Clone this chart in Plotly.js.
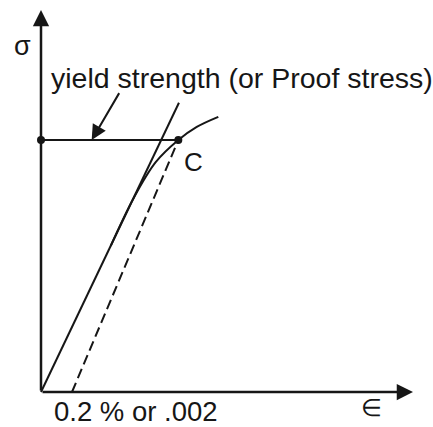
<!DOCTYPE html>
<html>
<head>
<meta charset="utf-8">
<script src="https://cdn.plot.ly/plotly-3.0.1.min.js"></script>
<style>html,body{margin:0;padding:0;background:#fff;}#chart{width:433px;height:427px;}</style>
</head>
<body>
<div id="chart"></div>
<script>
// ---- data (strain in %, stress in MPa, schematic) ----
const elasticStrain = [0, 0.890];
const elasticStress = [0, 287];
const offsetStrain = [0.2, 0.886];
const offsetStress = [0, 250];
const curveStrain = [0.45, 0.60, 0.74, 0.886, 1.005, 1.144];
const curveStress = [145, 193, 228, 250, 263, 273];
const yieldStrain = [0, 0.886];
const yieldStress = [250, 250];
const axisEnds = [2.4, 379];           // strain axis end, stress axis end
const arrowTail = [0.51, 298];         // label arrow tail
const arrowHead = [0.327, 250];        // label arrow head
const labels = ["σ", "yield strength (or Proof stress)", "C", "0.2 % or .002", "∈"];

const ink = '#161616';
const font = 'Liberation Sans, Arial, sans-serif';

const traces = [
  {x: elasticStrain, y: elasticStress, mode: 'lines', line: {color: ink, width: 2}},
  {x: offsetStrain, y: offsetStress, mode: 'lines', line: {color: ink, width: 2, dash: '10px,5px'}},
  {x: curveStrain, y: curveStress, mode: 'lines', line: {color: ink, width: 2, shape: 'spline', smoothing: 1}},
  {x: yieldStrain, y: yieldStress, mode: 'lines+markers', line: {color: ink, width: 2},
   marker: {color: ink, size: 8}}
];

const arrowBase = {showarrow: true, text: '', axref: 'x', ayref: 'y', arrowcolor: ink,
  arrowhead: 2, standoff: 0, startstandoff: 0};

const layout = {
  width: 433, height: 427,
  margin: {l: 0, r: 0, t: 0, b: 0},
  paper_bgcolor: '#fff', plot_bgcolor: '#fff',
  showlegend: false,
  xaxis: {range: [-0.26452, 2.52903], visible: false, fixedrange: true},
  yaxis: {range: [-34.72, 388.89], visible: false, fixedrange: true},
  annotations: [
    Object.assign({}, arrowBase, {x: 0, y: axisEnds[1], ax: 0, ay: 0, arrowwidth: 2.5, arrowsize: 1.3}),
    Object.assign({}, arrowBase, {x: axisEnds[0], y: 0, ax: 0, ay: 0, arrowwidth: 2.5, arrowsize: 1.3}),
    Object.assign({}, arrowBase, {x: arrowHead[0], y: arrowHead[1], ax: arrowTail[0], ay: arrowTail[1], arrowwidth: 2, arrowsize: 1.5}),
    {x: -0.1226, y: 343, text: labels[0], showarrow: false, xanchor: 'center', yanchor: 'middle',
     font: {family: font, size: 27, color: ink}},
    {x: 0.052, y: 312, text: labels[1], showarrow: false, xanchor: 'left', yanchor: 'middle',
     font: {family: font, size: 28.5, color: ink}},
    {x: 0.981, y: 228, text: labels[2], showarrow: false, xanchor: 'center', yanchor: 'middle',
     font: {family: font, size: 26, color: ink}},
    {x: 0.069, y: -19.8, text: labels[3], showarrow: false, xanchor: 'left', yanchor: 'middle',
     font: {family: font, size: 27.5, color: ink}},
    {x: 2.135, y: -14.9, text: labels[4], showarrow: false, xanchor: 'center', yanchor: 'middle',
     font: {family: font, size: 24, color: ink}}
  ]
};

Plotly.newPlot('chart', traces, layout, {staticPlot: true, displayModeBar: false});
</script>
</body>
</html>
